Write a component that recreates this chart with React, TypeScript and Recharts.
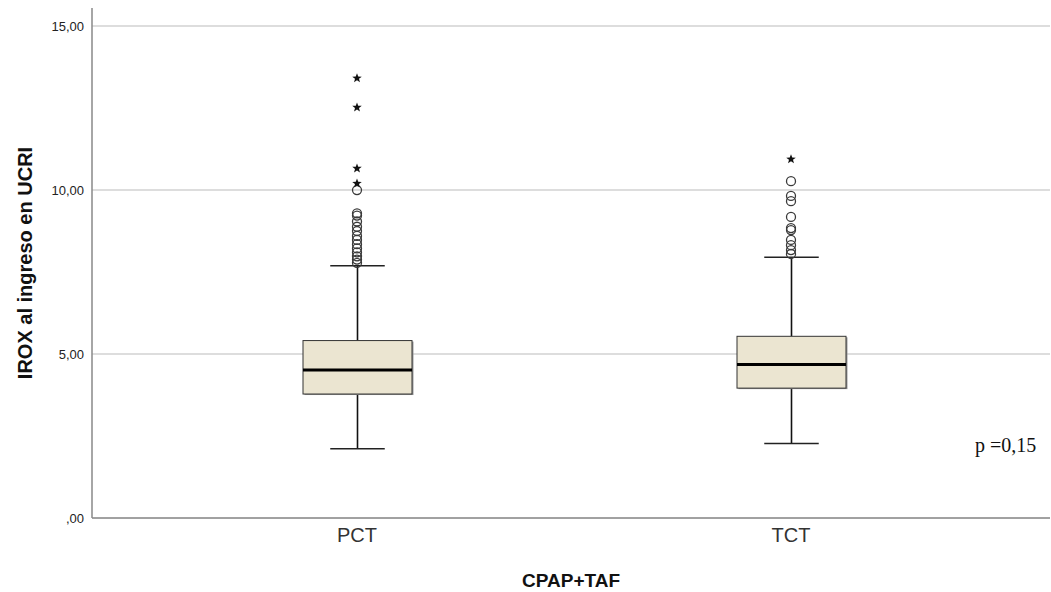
import React from 'react';
import { ComposedChart, Bar, Scatter, XAxis, YAxis, CartesianGrid } from 'recharts';

// box plot stats per group
const categories = ['PCT', 'TCT'];
const whiskerLow = [2.11, 2.27];
const quartile1 = [3.78, 3.96];
const medians = [4.51, 4.68];
const quartile3 = [5.41, 5.54];
const whiskerHigh = [7.69, 7.95];

// outliers (stars = extreme, circles = mild)
const pctStars = [13.41, 12.52, 10.66, 10.2];
const pctCircles = [10.0, 9.29, 9.22, 9.04, 8.88, 8.75, 8.6, 8.48, 8.35, 8.22, 8.1, 7.98, 7.88, 7.78];
const tctStars = [10.94];
const tctCircles = [10.27, 9.82, 9.66, 9.18, 8.84, 8.78, 8.48, 8.32, 8.17, 8.05];

const yTicks = [0, 5, 10, 15];
const gridValues = [5, 10, 15];

const boxData = categories.map((cat, i) => ({
  cat,
  range: [whiskerLow[i], whiskerHigh[i]],
  lo: whiskerLow[i],
  q1: quartile1[i],
  med: medians[i],
  q3: quartile3[i],
  hi: whiskerHigh[i],
}));

const starData = [
  ...pctStars.map((v) => ({ cat: 'PCT', v })),
  ...tctStars.map((v) => ({ cat: 'TCT', v })),
];
const circleData = [
  ...pctCircles.map((v) => ({ cat: 'PCT', v })),
  ...tctCircles.map((v) => ({ cat: 'TCT', v })),
];

const font = 'Liberation Sans, Arial, sans-serif';

const BoxShape = (props: any) => {
  const { x, y, width, height, payload } = props;
  const { lo, q1, med, q3, hi } = payload;
  const k = height / (hi - lo);
  const py = (v: number) => y + (hi - v) * k;
  const cx = x + width / 2;
  const cap = width / 4;
  return (
    <g>
      <line x1={cx} x2={cx} y1={py(hi)} y2={py(q3)} stroke="#111" strokeWidth={1.6} />
      <line x1={cx} x2={cx} y1={py(q1)} y2={py(lo)} stroke="#111" strokeWidth={1.6} />
      <line x1={cx - cap} x2={cx + cap} y1={py(hi)} y2={py(hi)} stroke="#222" strokeWidth={1.6} />
      <line x1={cx - cap} x2={cx + cap} y1={py(lo)} y2={py(lo)} stroke="#222" strokeWidth={1.6} />
      <rect x={x + 1.5} y={py(q3) + 1} width={width} height={py(q1) - py(q3)} fill="#9a9a9a" />
      <rect x={x} y={py(q3)} width={width} height={py(q1) - py(q3)} fill="#ebe5d1" stroke="#333" strokeWidth={1} />
      <line x1={x} x2={x + width} y1={py(med)} y2={py(med)} stroke="#000" strokeWidth={3} />
    </g>
  );
};

const Ring = (p: any) => (
  <circle cx={p.cx} cy={p.cy} r={4.5} fill="none" stroke="#3a3a3a" strokeWidth={1.3} />
);

const Star = (p: any) => {
  const pts: string[] = [];
  for (let i = 0; i < 10; i++) {
    const r = i % 2 === 0 ? 5 : 2.1;
    const a = -Math.PI / 2 + (i * Math.PI) / 5;
    pts.push(`${p.cx + r * Math.cos(a)},${p.cy + r * Math.sin(a)}`);
  }
  return <polygon points={pts.join(' ')} fill="#111" />;
};

const fmtY = (v: number) => (v === 0 ? ',00' : v.toFixed(2).replace('.', ','));

export default function App() {
  return (
    <div style={{ position: 'absolute', left: 0, top: 0, width: 1051, height: 592, background: '#fff' }}>
      <ComposedChart
        width={1051}
        height={592}
        data={boxData}
        margin={{ top: 8, right: 1, bottom: 0, left: 0 }}
      >
        <CartesianGrid
          horizontal
          vertical={false}
          horizontalValues={gridValues}
          stroke="#d2d2d2"
          strokeWidth={1.5}
        />
        <XAxis
          dataKey="cat"
          type="category"
          allowDuplicatedCategory={false}
          height={74}
          padding={{ left: 48, right: 42 }}
          stroke="#444"
          tickLine={false}
          tickMargin={4}
          tick={{ fontSize: 20, fill: '#333', fontFamily: font }}
          label={{
            value: 'CPAP+TAF',
            position: 'insideBottom',
            offset: 5,
            style: { fontSize: 19, fontWeight: 'bold', fill: '#111', fontFamily: font },
          }}
        />
        <YAxis
          type="number"
          domain={[0, 15.55]}
          ticks={yTicks}
          allowDataOverflow
          width={92}
          stroke="#888"
          strokeWidth={1.5}
          tickLine={false}
          tickFormatter={fmtY}
          tick={{ fontSize: 13, fill: '#222', fontFamily: font }}
          label={{
            value: 'IROX al ingreso en UCRI',
            angle: -90,
            position: 'insideLeft',
            offset: 25,
            style: { fontSize: 20, fontWeight: 'bold', fill: '#111', fontFamily: font, textAnchor: 'middle' },
          }}
        />
        <Bar dataKey="range" barSize={109} shape={<BoxShape />} isAnimationActive={false} />
        <Scatter data={circleData} dataKey="v" shape={<Ring />} isAnimationActive={false} />
        <Scatter data={starData} dataKey="v" shape={<Star />} isAnimationActive={false} />
      </ComposedChart>
      <div
        style={{
          position: 'absolute',
          left: 975,
          top: 434,
          fontFamily: 'Liberation Serif, Times New Roman, serif',
          fontSize: 20,
          color: '#111',
          whiteSpace: 'nowrap',
        }}
      >
        p =0,15
      </div>
    </div>
  );
}
